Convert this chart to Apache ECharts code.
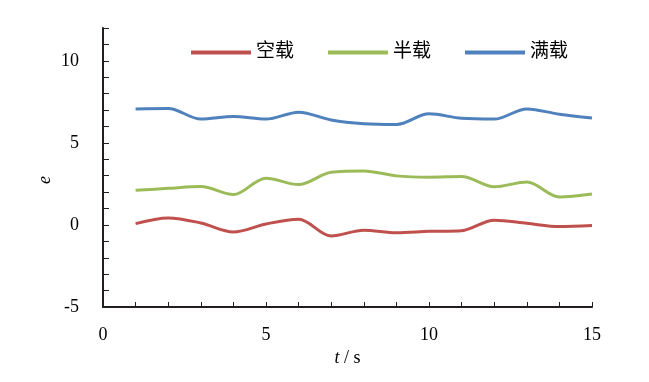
<!DOCTYPE html>
<html>
<head>
<meta charset="utf-8">
<script src="https://cdn.jsdelivr.net/npm/echarts@6/dist/echarts.min.js"></script>
<style>html,body{margin:0;padding:0;background:#fff}#c{width:649px;height:382px}</style>
</head>
<body>
<div id="c"></div>
<script>
var times = [1,2,3,4,5,6,7,8,9,10,11,12,13,14,15];
var emptyLoad = [0.08,0.43,0.12,-0.43,0.06,0.35,-0.67,-0.32,-0.47,-0.39,-0.35,0.29,0.1,-0.1,-0.04];
var halfLoad  = [2.11,2.23,2.34,1.85,2.85,2.46,3.21,3.29,2.99,2.91,2.95,2.32,2.62,1.71,1.89];
var fullLoad  = [7.07,7.1,6.45,6.6,6.45,6.87,6.4,6.17,6.12,6.77,6.5,6.45,7.07,6.75,6.52];
var seriesNames = ['空载','半载','满载'];
var seriesColors = ['#c0504d','#9bbb59','#4f81bd'];
var xTickLabels = [0,5,10,15];
var yTickLabels = [-5,0,5,10];

function pairs(vals){ return times.map(function(t,i){ return [t, vals[i]]; }); }
var allVals = [emptyLoad, halfLoad, fullLoad];
var font = '"Liberation Serif","Times New Roman",serif';
var axisColor = '#231f20';

var chart = echarts.init(document.getElementById('c'));
chart.setOption({
  animation: false,
  color: seriesColors,
  grid: {left: 103, right: 57, top: 28, bottom: 75},
  legend: {
    top: 38, left: 186,
    itemWidth: 60, itemHeight: 4, itemGap: 34,
    icon: 'rect',
    textStyle: {fontFamily: '"Liberation Serif","Noto Sans CJK SC",serif', fontSize: 19, color: '#000'},
    data: seriesNames
  },
  xAxis: {
    type: 'value', min: 0, max: 15, interval: 1,
    name: '{i|t} / s', nameLocation: 'middle', nameGap: 41,
    nameTextStyle: {fontFamily: font, fontSize: 18, color: '#000',
      rich: {i: {fontFamily: font, fontStyle: 'italic', fontSize: 18, color: '#000'}}},
    axisLine: {onZero: false, lineStyle: {color: axisColor, width: 2}},
    axisTick: {inside: true, length: 5, lineStyle: {color: axisColor, width: 1}},
    splitLine: {show: false},
    axisLabel: {fontFamily: font, fontSize: 18, color: '#000', margin: 19,
      formatter: function(v){ return xTickLabels.indexOf(v) >= 0 ? String(v) : ''; }}
  },
  yAxis: {
    type: 'value', min: -5, max: 12, interval: 1,
    axisLine: {onZero: false, lineStyle: {color: axisColor, width: 2}},
    axisTick: {inside: true, length: 6, lineStyle: {color: axisColor, width: 1}},
    splitLine: {show: false},
    axisLabel: {fontFamily: font, fontSize: 18, color: '#000', margin: 24,
      formatter: function(v){ return yTickLabels.indexOf(v) >= 0 ? String(v) : ''; }}
  },
  graphic: [{
    type: 'text', left: 36, top: 176, rotation: Math.PI/2,
    style: {text: 'e', font: 'italic 18px "Liberation Serif", serif', fill: '#000'}
  }],
  series: seriesNames.map(function(n, i){
    return {
      name: n, type: 'line', smooth: 0.33, showSymbol: false,
      lineStyle: {width: 3, color: seriesColors[i]},
      itemStyle: {color: seriesColors[i]},
      data: pairs(allVals[i])
    };
  })
});
</script>
</body>
</html>
